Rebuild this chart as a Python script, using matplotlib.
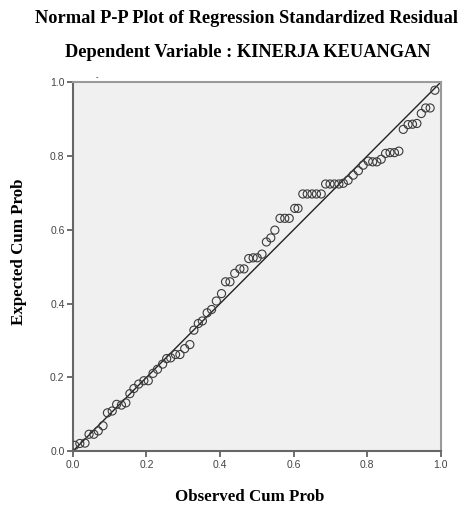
import matplotlib.pyplot as plt

# Observed vs expected cumulative probabilities
observed = [0.005, 0.019, 0.033, 0.044, 0.057, 0.069, 0.082, 0.094, 0.107, 0.119,
            0.132, 0.144, 0.155, 0.166, 0.179, 0.193, 0.205, 0.218, 0.230, 0.244,
            0.255, 0.266, 0.279, 0.291, 0.304, 0.318, 0.329, 0.341, 0.352, 0.365,
            0.377, 0.390, 0.404, 0.415, 0.427, 0.440, 0.454, 0.465, 0.478, 0.490,
            0.501, 0.514, 0.526, 0.538, 0.549, 0.563, 0.576, 0.588, 0.603, 0.612,
            0.625, 0.637, 0.650, 0.662, 0.675, 0.687, 0.699, 0.711, 0.723, 0.735,
            0.748, 0.762, 0.776, 0.789, 0.803, 0.815, 0.826, 0.838, 0.850, 0.862,
            0.874, 0.886, 0.898, 0.911, 0.923, 0.935, 0.947, 0.959, 0.971, 0.984]
expected = [0.016, 0.021, 0.022, 0.046, 0.046, 0.055, 0.069, 0.104, 0.109, 0.127,
            0.125, 0.131, 0.156, 0.170, 0.182, 0.191, 0.191, 0.211, 0.222, 0.236,
            0.251, 0.253, 0.262, 0.262, 0.278, 0.289, 0.328, 0.346, 0.353, 0.375,
            0.384, 0.407, 0.427, 0.459, 0.459, 0.482, 0.494, 0.494, 0.522, 0.524,
            0.524, 0.534, 0.567, 0.578, 0.599, 0.631, 0.631, 0.631, 0.658, 0.658,
            0.697, 0.697, 0.697, 0.697, 0.697, 0.724, 0.724, 0.724, 0.724, 0.726,
            0.734, 0.748, 0.760, 0.775, 0.786, 0.784, 0.784, 0.791, 0.807, 0.809,
            0.809, 0.813, 0.872, 0.885, 0.886, 0.888, 0.915, 0.930, 0.930, 0.978]
ticks = [0.0, 0.2, 0.4, 0.6, 0.8, 1.0]
tick_labels = ["0.0", "0.2", "0.4", "0.6", "0.8", "1.0"]

fig = plt.figure(figsize=(4.64, 5.07), dpi=100)
fig.patch.set_facecolor("white")
ax = fig.add_axes([0.157, 0.110, 0.793, 0.728])
ax.set_facecolor("#f0f0f0")

# reference line
ax.plot([0, 1], [0, 1], color="#222222", lw=1.0, zorder=2)
ax.scatter(observed, expected, s=34, facecolors="none", edgecolors="#3a3a3a",
           linewidths=0.8, zorder=3)

ax.set_xlim(0, 1)
ax.set_ylim(0, 1)
ax.set_xticks(ticks)
ax.set_xticklabels(tick_labels)
ax.set_yticks(ticks)
ax.set_yticklabels(tick_labels)
ax.tick_params(direction="out", length=4, width=1.2, color="#555555",
               labelsize=7.5, labelcolor="#444444", pad=2)
for lbl in ax.get_xticklabels() + ax.get_yticklabels():
    lbl.set_family("Liberation Sans")

for side in ["top", "right"]:
    ax.spines[side].set_color("#9a9a9a")
    ax.spines[side].set_linewidth(1.5)
for side in ["left", "bottom"]:
    ax.spines[side].set_color("#666666")
    ax.spines[side].set_linewidth(1.5)

serif = "Liberation Serif"
fig.text(0.532, 0.964, "Normal P-P Plot of Regression Standardized Residual",
         ha="center", va="center", fontsize=13.2, fontweight="bold", family=serif)
fig.text(0.533, 0.897, "Dependent Variable : KINERJA KEUANGAN",
         ha="center", va="center", fontsize=13.2, fontweight="bold", family=serif)
fig.text(0.539, 0.020, "Observed Cum Prob", ha="center", va="center",
         fontsize=12.2, fontweight="bold", family=serif)
fig.text(0.040, 0.503, "Expected Cum Prob", ha="center", va="center",
         rotation=90, fontsize=12.2, fontweight="bold", family=serif)
# stray mark above the plot frame
fig.text(0.209, 0.848, "-", ha="center", va="center", fontsize=5)

fig.savefig("out.png", dpi=100)
